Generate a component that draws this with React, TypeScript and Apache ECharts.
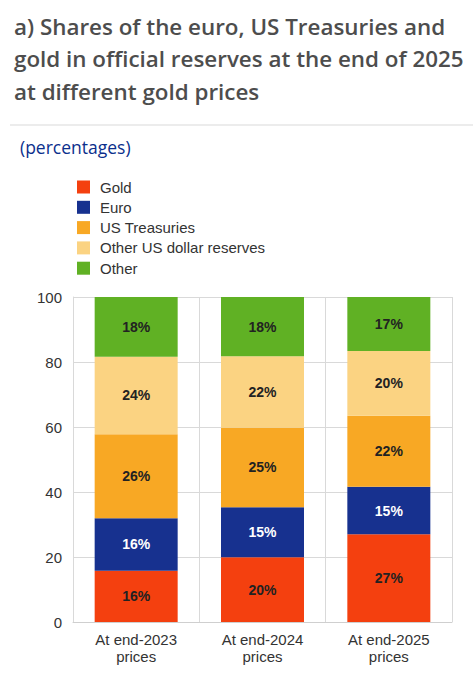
import React, { useEffect, useRef } from "react";
import * as echarts from "echarts";

const categories = ["At end-2023\nprices", "At end-2024\nprices", "At end-2025\nprices"];
const seriesNames = ["Gold", "Euro", "US Treasuries", "Other US dollar reserves", "Other"];
const gold = [15.8, 19.9, 27.0];
const euro = [16.1, 15.4, 14.6];
const usTreasuries = [25.9, 24.5, 21.9];
const otherUsd = [23.8, 22.0, 19.9];
const other = [18.4, 18.2, 16.6];
const yTicks = [0, 20, 40, 60, 80, 100];
const titleLines = [
  "a) Shares of the euro, US Treasuries and",
  "gold in official reserves at the end of 2025",
  "at different gold prices",
];
const subtitle = "(percentages)";

const colors = ["#f4400f", "#17318f", "#f8a824", "#fbd382", "#60b124"];
const labelColors = ["#222", "#fff", "#222", "#222", "#222"];

export default function App() {
  const ref = useRef<HTMLDivElement>(null);
  useEffect(() => {
    document.body.style.margin = "0";
    const chart = echarts.init(ref.current!, null, { renderer: "svg" });
    const data = [gold, euro, usTreasuries, otherUsd, other];
    chart.setOption({
      animation: false,
      title: {
        text: titleLines.join("\n"),
        left: 9,
        top: 5,
        textStyle: {
          fontFamily: "Open Sans",
          fontSize: 22.4,
          fontWeight: 600,
          color: "#4d4d4d",
          lineHeight: 32.5,
        },
      },
      graphic: [
        {
          type: "line",
          shape: { x1: 10, y1: 125, x2: 473, y2: 125 },
          style: { stroke: "#d9d9d9", lineWidth: 1 },
        },
        {
          type: "text",
          left: 20,
          top: 138,
          style: {
            text: subtitle,
            fontFamily: "Open Sans",
            fontSize: 17.5,
            fill: "#0b2f8c",
          },
        },
      ],
      legend: {
        orient: "vertical",
        left: 72,
        top: 174.5,
        itemWidth: 13,
        itemHeight: 13,
        itemGap: 5.3,
        icon: "rect",
        data: seriesNames,
        textStyle: {
          fontFamily: "Liberation Sans",
          fontSize: 15,
          color: "#333",
          padding: [0, 0, 0, 5],
        },
      },
      grid: { left: 73, right: 21, top: 297, bottom: 64 },
      xAxis: {
        type: "category",
        data: categories,
        axisTick: { show: false },
        axisLine: { lineStyle: { color: "#cfcfcf" } },
        splitLine: { show: true, lineStyle: { color: "#d9d9d9" } },
        axisLabel: {
          fontFamily: "Liberation Sans",
          fontSize: 15,
          lineHeight: 17,
          color: "#333",
          margin: 9,
        },
      },
      yAxis: {
        type: "value",
        min: 0,
        max: 100,
        interval: 20,
        axisLine: { show: true, lineStyle: { color: "#d9d9d9" } },
        axisTick: { show: false },
        splitLine: { lineStyle: { color: "#d9d9d9" } },
        axisLabel: {
          fontFamily: "Liberation Sans",
          fontSize: 15,
          color: "#333",
          margin: 11,
          formatter: (v: number) => (yTicks.includes(v) ? String(v) : ""),
        },
      },
      series: seriesNames.map((name, i) => ({
        name,
        type: "bar",
        stack: "total",
        barWidth: 83,
        data: data[i],
        itemStyle: { color: colors[i] },
        label: {
          show: true,
          position: "inside",
          formatter: (p: any) => Math.round(p.value) + "%",
          fontFamily: "Liberation Sans",
          fontWeight: "bold",
          fontSize: 14,
          color: labelColors[i],
        },
      })),
    });
    return () => chart.dispose();
  }, []);
  return <div ref={ref} style={{ width: 473, height: 686 }} />;
}
